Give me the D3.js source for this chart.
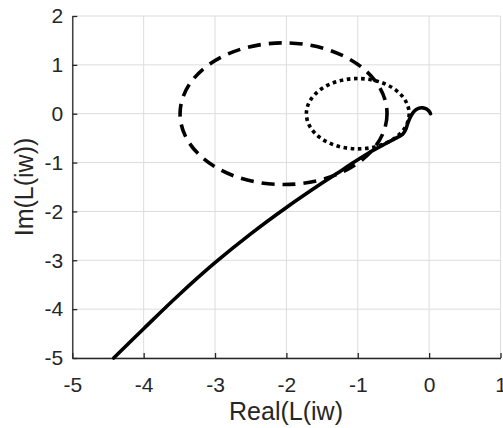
<!DOCTYPE html>
<html>
<head>
<meta charset="utf-8">
<script src="https://cdn.jsdelivr.net/npm/d3@7"></script>
<style>
	body { margin: 0; background: #fff; }
	text { font-family: "Liberation Sans", Arial, sans-serif; fill: #262626; }
</style>
</head>
<body>
<div id="graph"></div>
<script>
/*
 * values, in the complex plane
 */
var nyquistRe = [0.02, 0.00, -0.04, -0.09, -0.15, -0.21, -0.26, -0.30, -0.33,
	-0.37, -0.45, -0.62, -0.83, -1.05, -1.30, -1.50, -2.00, -2.50, -3.00,
	-3.50, -4.00, -4.42];
var nyquistIm = [0.00, 0.05, 0.10, 0.12, 0.11, 0.05, -0.06, -0.20, -0.33,
	-0.42, -0.49, -0.62, -0.79, -0.99, -1.23, -1.42, -1.92, -2.46, -3.05,
	-3.70, -4.40, -5.00];

// dashed and dotted circles: centre on the real axis, radius
var circleNames = ["dashed", "dotted"];
var circleCenters = [-2.04, -1.00];
var circleRadii = [1.45, 0.72];

var xTicks = [-5, -4, -3, -2, -1, 0, 1];
var yTicks = [-5, -4, -3, -2, -1, 0, 1, 2];

var width = 503, height = 428;
var plotLeft = 72.3, plotRight = 500.5, plotTop = 16, plotBottom = 358;

var xScale = d3.scaleLinear()
	.domain([-5, 1])
	.range([plotLeft, plotRight]);
var yScale = d3.scaleLinear()
	.domain([-5, 2])
	.range([plotBottom, plotTop]);

var svg = d3.select("#graph").append("svg")
	.attr("width", width)
	.attr("height", height);

// grid
svg.append("g")
	.selectAll("line")
	.data(xTicks)
	.enter().append("line")
	.attr("x1", function (d) { return xScale(d); })
	.attr("x2", function (d) { return xScale(d); })
	.attr("y1", plotTop)
	.attr("y2", plotBottom)
	.attr("stroke", "#dcdcdc")
	.attr("stroke-width", 1);

svg.append("g")
	.selectAll("line")
	.data(yTicks)
	.enter().append("line")
	.attr("x1", plotLeft)
	.attr("x2", plotRight)
	.attr("y1", function (d) { return yScale(d); })
	.attr("y2", function (d) { return yScale(d); })
	.attr("stroke", "#dcdcdc")
	.attr("stroke-width", 1);

var plainFormat = function (d) { return String(d); };

var xAxis = d3.axisBottom(xScale)
	.tickValues(xTicks)
	.tickFormat(plainFormat)
	.tickSizeInner(-5)
	.tickSizeOuter(0)
	.tickPadding(19);

var yAxis = d3.axisLeft(yScale)
	.tickValues(yTicks)
	.tickFormat(plainFormat)
	.tickSizeInner(-5)
	.tickSizeOuter(0)
	.tickPadding(9);

var gx = svg.append("g")
	.attr("transform", "translate(0, " + plotBottom + ")")
	.call(xAxis);
var gy = svg.append("g")
	.attr("transform", "translate(" + plotLeft + ", 0)")
	.call(yAxis);

[gx, gy].forEach(function (g) {
	g.select(".domain").attr("stroke", "#262626").attr("stroke-width", 1.3);
	g.selectAll(".tick line").attr("stroke", "#262626").attr("stroke-width", 1.3);
	g.selectAll(".tick text")
		.attr("fill", "#262626")
		.style("font-family", "\"Liberation Sans\", Arial, sans-serif")
		.style("font-size", "21px");
});

// curves
var ellipses = svg.append("g").attr("fill", "none").attr("stroke", "#000");

circleNames.forEach(function (name, i) {
	var cx = circleCenters[i], r = circleRadii[i];
	var e = ellipses.append("ellipse")
		.attr("cx", xScale(cx))
		.attr("cy", yScale(0))
		.attr("rx", xScale(cx + r) - xScale(cx))
		.attr("ry", yScale(0) - yScale(r));
	if (name == "dashed") {
		e.attr("stroke-width", 3.6).attr("stroke-dasharray", "13,8");
	} else {
		e.attr("stroke-width", 3.6).attr("stroke-dasharray", "3.6,3.6");
	}
});

var line = d3.line()
	.x(function (d, i) { return xScale(nyquistRe[i]); })
	.y(function (d, i) { return yScale(nyquistIm[i]); })
	.curve(d3.curveCatmullRom);

svg.append("path")
	.datum(nyquistRe)
	.attr("fill", "none")
	.attr("stroke", "#000")
	.attr("stroke-width", 3.6)
	.attr("stroke-linecap", "round")
	.attr("d", line);

// labels
svg.append("text")
	.attr("x", 286)
	.attr("y", 420)
	.attr("text-anchor", "middle")
	.style("font-size", "25px")
	.text("Real(L(iw)");

svg.append("text")
	.attr("transform", "translate(33, " + (plotTop + plotBottom) / 2 + ") rotate(-90)")
	.attr("text-anchor", "middle")
	.style("font-size", "25px")
	.text("Im(L(iw))");
</script>
</body>
</html>
